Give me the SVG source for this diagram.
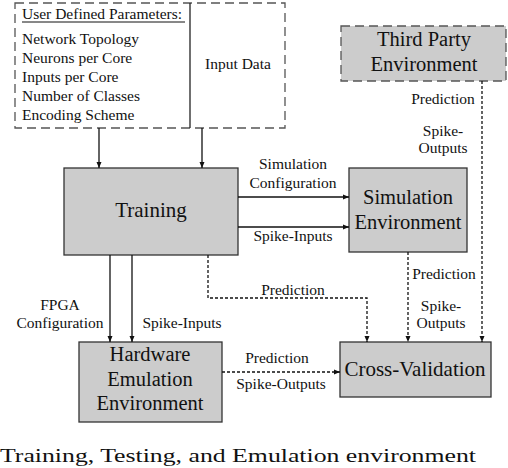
<svg xmlns="http://www.w3.org/2000/svg" width="508" height="468" viewBox="0 0 508 468">
<defs>
<marker id="ah" markerWidth="6" markerHeight="6" refX="6" refY="3" orient="auto" markerUnits="userSpaceOnUse">
<path d="M0,0.5 L6,3 L0,5.5 Z" fill="#111"/>
</marker>
<style>
text{font-family:"Liberation Serif","DejaVu Serif",serif;fill:#111}
.box{fill:#cccccc;stroke:#333;stroke-width:1.3}
.dbox{fill:none;stroke:#555;stroke-width:1.3;stroke-dasharray:9,5}
.tbox{fill:#cccccc;stroke:#555;stroke-width:1.3;stroke-dasharray:9,5}
.big{font-size:21px;text-anchor:middle}
.mid{font-size:20.5px;text-anchor:middle}
.lab{font-size:15.5px;text-anchor:middle}
.par{font-size:15.5px}
.sol{fill:none;stroke:#111;stroke-width:1.3}
.dot{fill:none;stroke:#111;stroke-width:1.3;stroke-dasharray:3,2}
</style>
</defs>
<rect width="508" height="468" fill="#fff"/>
<g id="params">
<rect class="dbox" x="15" y="3" width="270" height="125"/>
<line x1="190" y1="3" x2="190" y2="128" stroke="#222" stroke-width="1.3"/>
<text class="par" x="22" y="19">User Defined Parameters:</text>
<line x1="22" y1="22" x2="185" y2="22" stroke="#111" stroke-width="1"/>
<text class="par" x="22" y="44">Network Topology</text>
<text class="par" x="22" y="63">Neurons per Core</text>
<text class="par" x="22" y="82">Inputs per Core</text>
<text class="par" x="22" y="101">Number of Classes</text>
<text class="par" x="22" y="120">Encoding Scheme</text>
<text class="par" x="238" y="69" text-anchor="middle">Input Data</text>
</g>
<g id="training">
<rect class="box" x="64" y="168" width="174" height="87"/>
<text class="big" x="151" y="217">Training</text>
</g>
<g id="simulation">
<rect class="box" x="349" y="168" width="118" height="84"/>
<text class="mid" x="408" y="204">Simulation</text>
<text class="mid" x="408" y="229">Environment</text>
</g>
<g id="thirdparty">
<rect class="tbox" x="341" y="26" width="165" height="55"/>
<text class="mid" x="424" y="46">Third Party</text>
<text class="mid" x="424" y="71">Environment</text>
</g>
<g id="hardware">
<rect class="box" x="79" y="342" width="143" height="80"/>
<text class="mid" x="150" y="361">Hardware</text>
<text class="mid" x="150" y="386">Emulation</text>
<text class="mid" x="150" y="410">Environment</text>
</g>
<g id="crossval">
<rect class="box" x="340" y="342" width="151" height="55"/>
<text class="big" x="415" y="376">Cross-Validation</text>
</g>
<g id="connectors">
<line class="sol" x1="99" y1="128" x2="99" y2="168" marker-end="url(#ah)"/>
<line class="sol" x1="202" y1="128" x2="202" y2="168" marker-end="url(#ah)"/>
<line class="sol" x1="238" y1="197" x2="349" y2="197" marker-end="url(#ah)"/>
<line class="sol" x1="238" y1="227" x2="349" y2="227" marker-end="url(#ah)"/>
<line class="sol" x1="110" y1="255" x2="110" y2="342" marker-end="url(#ah)"/>
<line class="sol" x1="132" y1="255" x2="132" y2="342" marker-end="url(#ah)"/>
<polyline class="dot" points="208,255 208,298 367,298 367,342" marker-end="url(#ah)"/>
<line class="dot" x1="408" y1="252" x2="408" y2="342" marker-end="url(#ah)"/>
<line class="dot" x1="482" y1="81" x2="482" y2="342" marker-end="url(#ah)"/>
<line class="dot" x1="222" y1="372" x2="340" y2="372" marker-end="url(#ah)"/>
<text class="lab" x="293" y="169">Simulation</text>
<text class="lab" x="293" y="188">Configuration</text>
<text class="lab" x="293" y="241">Spike-Inputs</text>
<text class="lab" x="443" y="104">Prediction</text>
<text class="lab" x="443" y="136">Spike-</text>
<text class="lab" x="443" y="153">Outputs</text>
<text class="lab" x="444" y="279">Prediction</text>
<text class="lab" x="441" y="311">Spike-</text>
<text class="lab" x="441" y="328">Outputs</text>
<text class="lab" x="293" y="295">Prediction</text>
<text class="lab" x="60" y="310">FPGA</text>
<text class="lab" x="60" y="328">Configuration</text>
<text class="lab" x="182" y="328">Spike-Inputs</text>
<text class="lab" x="277" y="363">Prediction</text>
<text class="lab" x="281" y="389">Spike-Outputs</text>
</g>
<text x="0" y="462" font-size="19" textLength="476" lengthAdjust="spacingAndGlyphs">Training, Testing, and Emulation environment</text>
</svg>
